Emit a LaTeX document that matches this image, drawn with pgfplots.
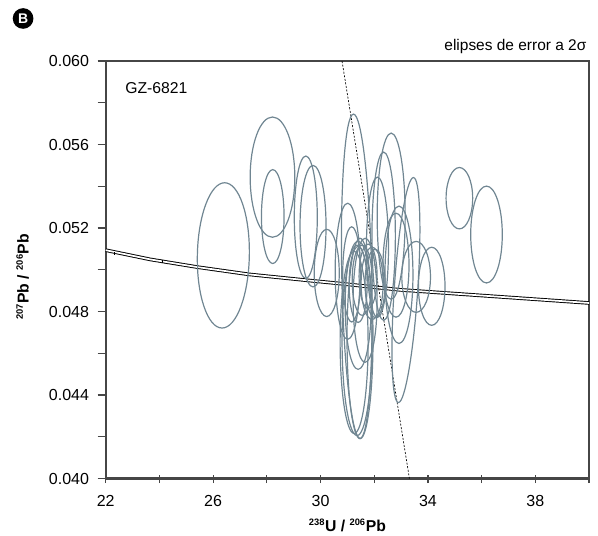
\documentclass[border=0pt]{standalone}
\usepackage{fontspec}
\setmainfont{Liberation Sans}
\usepackage{pgfplots}
\pgfplotsset{compat=1.18}
\usepackage{pgfplotstable}
\definecolor{ellcol}{RGB}{112,134,146}
\definecolor{axgray}{RGB}{70,70,70}

\pgfdeclareplotmark{errell}{%
  \pgfpathellipse{\pgfpointorigin}%
    {\pgfplotspointaxisdirectionxy{\ellrx}{0}}%
    {\pgfplotspointaxisdirectionxy{\ellsx}{\ellry}}%
  \pgfusepathqstroke}

\pgfplotstableread{
cx cy rx ry sx
26.38 0.05069 0.968 0.00348 0.048
28.21 0.05444 0.831 0.00288 0
28.22 0.05255 0.421 0.00225 0
29.45 0.05252 0.428 0.00293 0
29.72 0.05209 0.484 0.00291 0
30.23 0.04985 0.466 0.00209 0
31.35 0.04969 0.559 0.00777 -0.123
31.01 0.04993 0.466 0.00326 0
31.16 0.04978 0.335 0.00228 0
32.63 0.05257 0.521 0.00398 0
32.35 0.05161 0.436 0.00403 0
32.12 0.05108 0.410 0.00336 0
33.18 0.04903 0.439 0.00539 0.279
32.92 0.04976 0.521 0.00329 0
32.81 0.05022 0.484 0.00249 0
33.56 0.04966 0.533 0.00170 0
34.14 0.04921 0.495 0.00187 0
35.17 0.05343 0.495 0.00147 0
36.18 0.05169 0.588 0.00232 0
31.36 0.04662 0.559 0.00456 0
31.47 0.04671 0.484 0.00480 0
31.25 0.04652 0.521 0.00436 0
31.40 0.04830 0.484 0.00307 0
31.66 0.04854 0.447 0.00297 0
31.55 0.04950 0.372 0.00168 0
31.77 0.04969 0.335 0.00154 0
31.92 0.04935 0.410 0.00173 0
31.40 0.04930 0.335 0.00182 0
32.03 0.04935 0.372 0.00163 0
}\ellipses

\pgfplotstableread{
x y
22.00 0.05094
23.65 0.05050
25.41 0.05013
27.34 0.04978
29.86 0.04945
30.66 0.04935
32.96 0.04904
40.00 0.04841
}\concordia

\begin{document}
\begin{tikzpicture}
\begin{axis}[
  scale only axis, width=362.5pt, height=313.1pt,
  clip=false,
  xmin=22, xmax=40, ymin=0.040, ymax=0.060,
  xtick={22,26,30,34,38}, minor xtick={24,28,32,36,40},
  ytick={0.040,0.044,0.048,0.052,0.056,0.060},
  minor ytick={0.042,0.046,0.050,0.054,0.058},
  scaled y ticks=false,
  yticklabel style={/pgf/number format/fixed, /pgf/number format/fixed zerofill, /pgf/number format/precision=3},
  /pgf/number format/assume math mode=true,
  tick pos=left, tick align=outside,
  major tick length=6pt, minor tick length=6pt,
  every tick/.style={axgray, line width=0.9pt},
  axis background/.style={draw=axgray, line width=1.6pt},
  axis line style={axgray, line width=1.6pt},
  xtick style={yshift=2.5pt},
  every tick label/.append style={font=\fontsize{12}{14}\selectfont},
  xticklabel style={yshift=-3pt},
  yticklabel style={xshift=-3pt},
  xlabel={\bfseries\fontsize{11.8}{13}\selectfont\textsuperscript{\fontsize{7}{7}\selectfont 238}U / \textsuperscript{\fontsize{7}{7}\selectfont 206}Pb},
  ylabel={\bfseries\fontsize{11.8}{13}\selectfont\textsuperscript{\fontsize{7}{7}\selectfont 207}Pb / \textsuperscript{\fontsize{7}{7}\selectfont 206}Pb},
  xlabel style={at={(axis description cs:0.5,-0.127)}, anchor=base},
  ylabel style={at={(axis description cs:-0.172,0.483)}, anchor=center},
]
\addplot[draw=black, double=white, line width=0.7pt, double distance=1.3pt] table[x=x,y=y] {\concordia};
\addplot[only marks, mark=|, mark size=1.3pt, mark options={black, line width=0.5pt}] coordinates {(22.31,0.05078) (24.09,0.05041)};
\addplot[scatter, only marks, mark=errell,
  scatter/use mapped color={draw=ellcol, fill=ellcol},
  mark options={line width=0.9pt},
  visualization depends on={\thisrow{rx}\as\ellrx},
  visualization depends on={\thisrow{ry}\as\ellry},
  visualization depends on={\thisrow{sx}\as\ellsx},
] table[x=cx,y=cy] {\ellipses};
\addplot[black, line width=0.5pt, dash pattern=on 1.5pt off 1.2pt] coordinates {(30.80,0.060) (33.31,0.040)};
\node[anchor=north west, inner sep=0pt, font=\fontsize{11.8}{13}\selectfont] at (axis description cs:0.040,0.950) {GZ-6821};
\node[anchor=base east, inner sep=0pt, font=\fontsize{11.6}{13}\selectfont] at (axis description cs:0.995,1.025) {elipses de error a 2σ};
\node[circle, fill=black, text=white, inner sep=0pt, minimum size=15.5pt, font=\bfseries\fontsize{10.5}{10.5}\selectfont] at (axis description cs:-0.171,1.102) {B};
\end{axis}
\pgfresetboundingbox
\path[use as bounding box] (-79.3pt,-42.4pt) rectangle (369.2pt,358.9pt);
\end{tikzpicture}
\end{document}
